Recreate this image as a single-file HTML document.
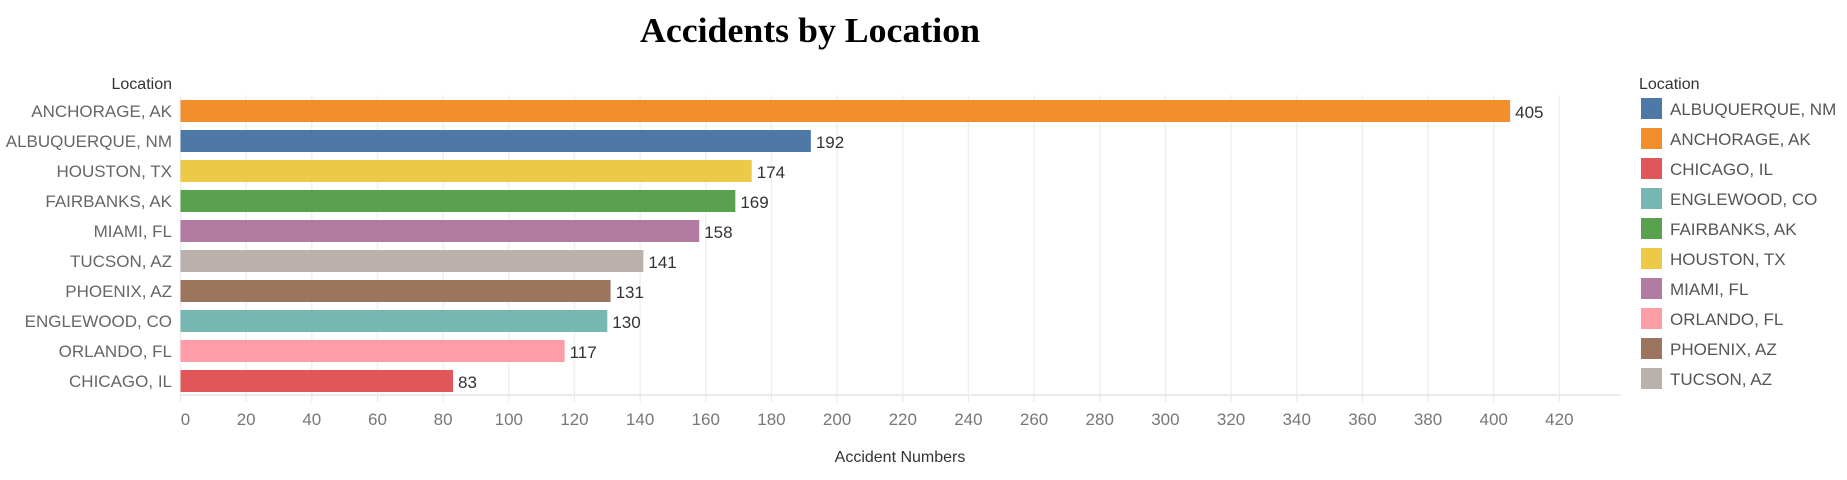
<!DOCTYPE html>
<html><head><meta charset="utf-8"><style>
html,body{margin:0;padding:0;background:#fff;}
svg{display:block;font-family:"Liberation Sans",sans-serif;}
</style></head><body>
<svg id="chart" width="1847" height="480" viewBox="0 0 1847 480">
<text x="810" y="42" text-anchor="middle" font-family="Liberation Serif, serif" font-weight="bold" font-size="35" textLength="340" lengthAdjust="spacingAndGlyphs" fill="#000">Accidents by Location</text>
<text x="172" y="89" text-anchor="end" font-size="16" fill="#333">Location</text>
<g id="grid"></g><g id="bars"></g><g id="xaxis"></g>
<text x="900" y="462" text-anchor="middle" font-size="16" fill="#333">Accident Numbers</text>
<g id="legend">
<text x="1639" y="89" font-size="16" fill="#333">Location</text>
</g>
</svg>
<script>
const categories=["ANCHORAGE, AK","ALBUQUERQUE, NM","HOUSTON, TX","FAIRBANKS, AK","MIAMI, FL","TUCSON, AZ","PHOENIX, AZ","ENGLEWOOD, CO","ORLANDO, FL","CHICAGO, IL"];
const values=[405,192,174,169,158,141,131,130,117,83];
const colors=["#f28e2b","#4e79a7","#edc948","#59a14f","#b07aa1","#bab0ac","#9c755f","#76b7b2","#ff9da7","#e15759"];
const ticks=[0,20,40,60,80,100,120,140,160,180,200,220,240,260,280,300,320,340,360,380,400,420];
const legendNames=["ALBUQUERQUE, NM","ANCHORAGE, AK","CHICAGO, IL","ENGLEWOOD, CO","FAIRBANKS, AK","HOUSTON, TX","MIAMI, FL","ORLANDO, FL","PHOENIX, AZ","TUCSON, AZ"];
const legendColors=["#4e79a7","#f28e2b","#e15759","#76b7b2","#59a14f","#edc948","#b07aa1","#ff9da7","#9c755f","#bab0ac"];
const NS="http://www.w3.org/2000/svg";
const X0=180.5,K=3.283;
const xs=v=>X0+v*K;
const ys=i=>100+i*30;
function mk(tag,attrs,parent,txt){const e=document.createElementNS(NS,tag);for(const k in attrs)e.setAttribute(k,attrs[k]);if(txt!==undefined)e.textContent=txt;parent.appendChild(e);return e;}
const grid=document.getElementById('grid'),bars=document.getElementById('bars'),xa=document.getElementById('xaxis'),lg=document.getElementById('legend');
ticks.forEach(t=>{
  const g=mk('line',{x1:xs(t),x2:xs(t),y1:95,y2:395,stroke:'#f0f0f0','stroke-width':1.5},grid);
  
  
  const tm=mk('line',{x1:xs(t),x2:xs(t),y1:395,y2:402,stroke:'#e6e6e6','stroke-width':1},xa);
  
  
  const tl=mk('text',{x:xs(t)+(t===0?5:0),y:425,'text-anchor':'middle','font-size':17,fill:'#777'},xa,String(t));
  
  
});
const ax=mk('line',{x1:X0,x2:1621,y1:395,y2:395,stroke:'#eaeaea','stroke-width':2},xa);


categories.forEach((c,i)=>{
  const y=ys(i);
  const r=mk('rect',{x:X0,y:y,width:xs(values[i])-X0,height:22,fill:colors[i]},bars);
  
  
  const l=mk('text',{x:172,y:y+17,'text-anchor':'end','font-size':17,fill:'#666'},bars,c);
  
  
  const v=mk('text',{x:xs(values[i])+5,y:y+18,'font-size':17,fill:'#333'},bars,String(values[i]));
  
  
});
legendNames.forEach((n,i)=>{
  const y=98+i*30;
  const s=mk('rect',{x:1641,y:y,width:21,height:21,fill:legendColors[i]},lg);
  
  
  const t=mk('text',{x:1670,y:y+17,'font-size':17,fill:'#555'},lg,n);
  
  
});
</script>
</body></html>
